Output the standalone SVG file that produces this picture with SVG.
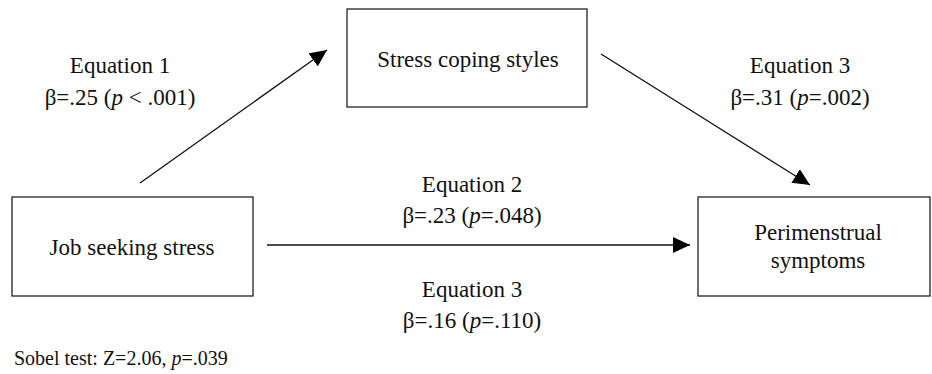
<svg xmlns="http://www.w3.org/2000/svg" width="932" height="374" viewBox="0 0 932 374">
<style>
text{font-family:"Liberation Serif","Times New Roman",serif;fill:#111;font-size:23px}
.c{text-anchor:middle}
.box{fill:#fff;stroke:#222;stroke-width:1.3}
.ln{stroke:#111;stroke-width:1.3;fill:none}
.small{font-size:20px}
</style>
<defs>
<marker id="ah" markerUnits="userSpaceOnUse" markerWidth="18" markerHeight="16" refX="17" refY="8" orient="auto" viewBox="0 0 18 16">
<path d="M0,0 L17,8 L0,16 z" fill="#000"/>
</marker>
</defs>
<rect width="932" height="374" fill="#fff"/>
<g id="connectors">
<line class="ln" x1="140" y1="183" x2="327" y2="50" marker-end="url(#ah)"/>
<line class="ln" x1="601" y1="54" x2="810" y2="185" marker-end="url(#ah)"/>
<line class="ln" x1="267" y1="245" x2="690" y2="245" marker-end="url(#ah)"/>
</g>
<g id="node-coping">
<rect class="box" x="347" y="9" width="240" height="98"/>
<text class="c" x="468" y="67">Stress coping styles</text>
</g>
<g id="node-job">
<rect class="box" x="12" y="197" width="241" height="99"/>
<text class="c" x="132" y="255">Job seeking stress</text>
</g>
<g id="node-peri">
<rect class="box" x="698" y="197" width="232" height="99"/>
<text class="c" x="818" y="240">Perimenstrual</text>
<text class="c" x="818" y="268">symptoms</text>
</g>
<g id="labels">
<text class="c" x="120" y="73">Equation 1</text>
<text class="c" x="120" y="105">β=.25 (<tspan font-style="italic">p</tspan> &lt; .001)</text>
<text class="c" x="800" y="73">Equation 3</text>
<text class="c" x="800" y="105">β=.31 (<tspan font-style="italic">p</tspan>=.002)</text>
<text class="c" x="472" y="192">Equation 2</text>
<text class="c" x="472" y="223">β=.23 (<tspan font-style="italic">p</tspan>=.048)</text>
<text class="c" x="472" y="297">Equation 3</text>
<text class="c" x="472" y="328">β=.16 (<tspan font-style="italic">p</tspan>=.110)</text>
<text class="small" x="14" y="365">Sobel test: Z=2.06, <tspan font-style="italic">p</tspan>=.039</text>
</g>
</svg>
